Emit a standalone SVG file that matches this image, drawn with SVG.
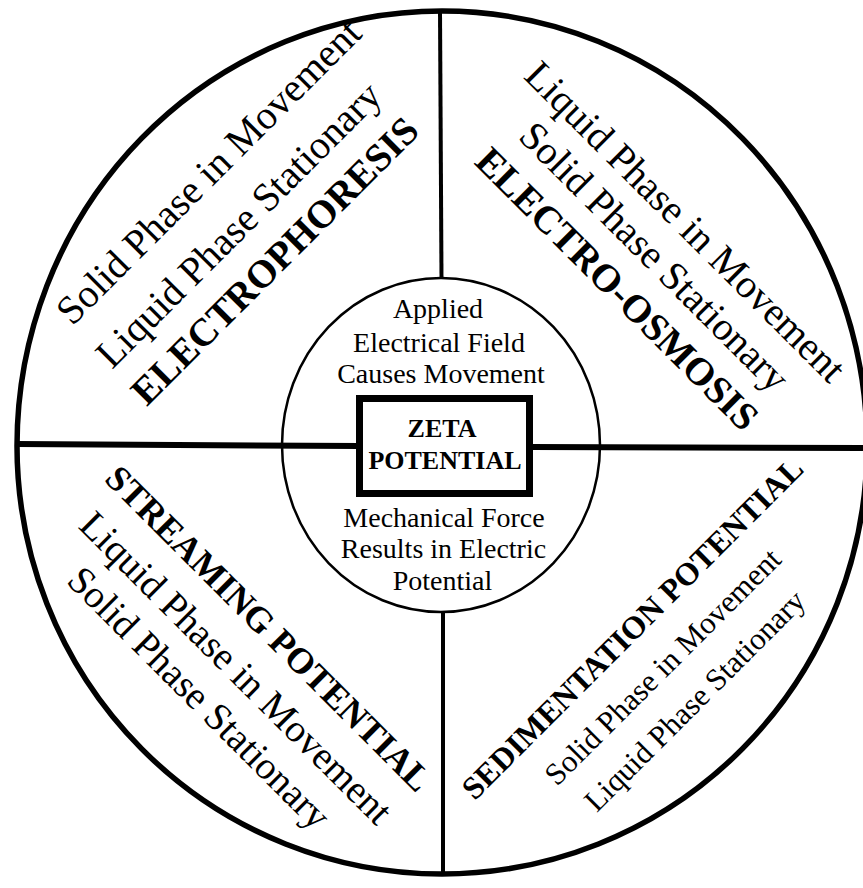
<svg xmlns="http://www.w3.org/2000/svg" width="863" height="888" viewBox="0 0 863 888">
<style>
text{font-family:"Liberation Serif","Times New Roman",serif;fill:#000;text-anchor:middle}
.c{font-size:28px}
.q{font-size:40px}
.qb{font-size:39px;font-weight:bold}
.s{font-size:31px}
.sb{font-size:32px;font-weight:bold}
.zb{font-size:26px;font-weight:bold}
.ln{stroke:#000;fill:none}
</style>
<rect width="863" height="888" fill="#fff"/>
<g id="connectors">
<path class="ln" d="M17,446 A425,435 0 0 1 867,446 A425,428 0 0 1 17,446 Z" stroke-width="5.5"/>
<line class="ln" x1="440" y1="11" x2="441.5" y2="279" stroke-width="4"/>
<line class="ln" x1="443" y1="611" x2="443" y2="876" stroke-width="4"/>
<line class="ln" x1="17" y1="444" x2="360" y2="446" stroke-width="6"/>
<line class="ln" x1="530" y1="447" x2="863" y2="448" stroke-width="6"/>
</g>
<g id="inner">
<ellipse class="ln" cx="441" cy="445" rx="159" ry="167" stroke-width="2.5"/>
<text class="c" x="438" y="318">Applied</text>
<text class="c" x="439" y="352">Electrical Field</text>
<text class="c" x="441" y="383">Causes Movement</text>
<text class="c" x="444" y="527">Mechanical Force</text>
<text class="c" x="443.5" y="558">Results in Electric</text>
<text class="c" x="442.5" y="590">Potential</text>
</g>
<g id="zeta">
<rect x="359.5" y="398.5" width="170" height="95" fill="#fff" stroke="#000" stroke-width="7"/>
<text class="zb" x="442" y="437">ZETA</text>
<text class="zb" x="445" y="469">POTENTIAL</text>
</g>
<g id="electrophoresis">
<text class="q" transform="translate(218,181) rotate(-45)">Solid Phase in Movement</text>
<text class="q" transform="translate(248,234) rotate(-45)">Liquid Phase Stationary</text>
<text class="qb" transform="translate(284,270) rotate(-45)">ELECTROPHORESIS</text>
</g>
<g id="electro-osmosis">
<text class="q" transform="translate(676,231) rotate(45)">Liquid Phase in Movement</text>
<text class="q" transform="translate(645,266) rotate(45)">Solid Phase Stationary</text>
<text class="qb" transform="translate(608,298) rotate(45)">ELECTRO-OSMOSIS</text>
</g>
<g id="streaming-potential">
<text class="qb" style="font-size:36px" transform="translate(260,637) rotate(45)">STREAMING POTENTIAL</text>
<text class="q" style="font-size:39px" transform="translate(227,677) rotate(45)">Liquid Phase in Movement</text>
<text class="q" style="font-size:39px" transform="translate(190,707) rotate(45)">Solid Phase Stationary</text>
</g>
<g id="sedimentation-potential">
<text class="sb" transform="translate(640,636) rotate(-45)">SEDIMENTATION POTENTIAL</text>
<text class="s" transform="translate(670,674) rotate(-45)">Solid Phase in Movement</text>
<text class="s" transform="translate(702,708) rotate(-45)">Liquid Phase Stationary</text>
</g>
</svg>
